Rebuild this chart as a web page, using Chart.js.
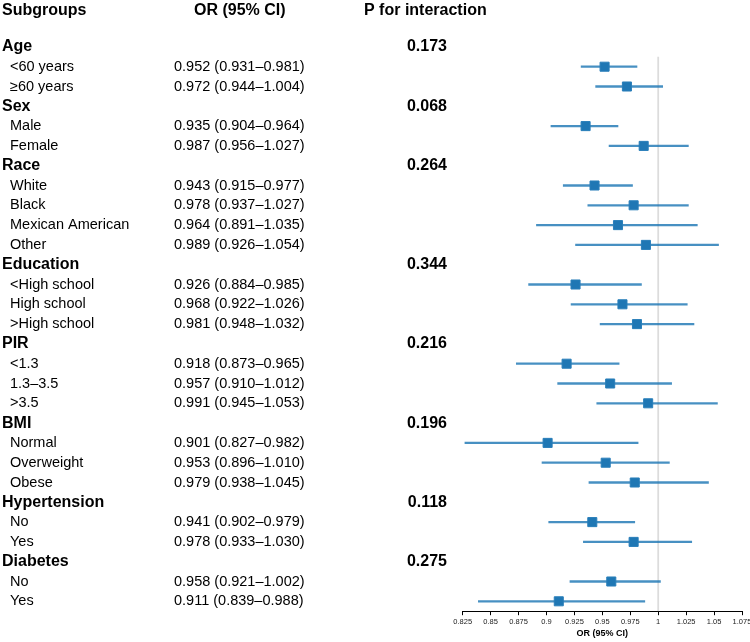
<!DOCTYPE html>
<html>
<head>
<meta charset="utf-8">
<script src="https://cdn.jsdelivr.net/npm/chart.js@4"></script>
<style>
  html, body { margin: 0; padding: 0; background: #fff; }
  #wrap { width: 750px; height: 642px; }
</style>
</head>
<body>
<div id="wrap"><canvas id="c" width="750" height="642"></canvas></div>
<script>
// ---- Data ----
const rowLabels = ['Age', '<60 years', '\u226560 years', 'Sex', 'Male', 'Female', 'Race', 'White', 'Black', 'Mexican American', 'Other', 'Education', '<High school', 'High school', '>High school', 'PIR', '<1.3', '1.3\u20133.5', '>3.5', 'BMI', 'Normal', 'Overweight', 'Obese', 'Hypertension', 'No', 'Yes', 'Diabetes', 'No', 'Yes'];
const isGroupHeader = [true, false, false, true, false, false, true, false, false, false, false, true, false, false, false, true, false, false, false, true, false, false, false, true, false, false, true, false, false];
const orValues = [null, 0.952, 0.972, null, 0.935, 0.987, null, 0.943, 0.978, 0.964, 0.989, null, 0.926, 0.968, 0.981, null, 0.918, 0.957, 0.991, null, 0.901, 0.953, 0.979, null, 0.941, 0.978, null, 0.958, 0.911];
const ciLower = [null, 0.931, 0.944, null, 0.904, 0.956, null, 0.915, 0.937, 0.891, 0.926, null, 0.884, 0.922, 0.948, null, 0.873, 0.910, 0.945, null, 0.827, 0.896, 0.938, null, 0.902, 0.933, null, 0.921, 0.839];
const ciUpper = [null, 0.981, 1.004, null, 0.964, 1.027, null, 0.977, 1.027, 1.035, 1.054, null, 0.985, 1.026, 1.032, null, 0.965, 1.012, 1.053, null, 0.982, 1.010, 1.045, null, 0.979, 1.030, null, 1.002, 0.988];
const pInteraction = ['0.173', null, null, '0.068', null, null, '0.264', null, null, null, null, '0.344', null, null, null, '0.216', null, null, null, '0.196', null, null, null, '0.118', null, null, '0.275', null, null];
const xTickValues = [0.825, 0.85, 0.875, 0.9, 0.925, 0.95, 0.975, 1, 1.025, 1.05, 1.075];
const columnHeaders = ['Subgroups', 'OR (95% CI)', 'P for interaction'];
const axisTitle = 'OR (95% CI)';
const refValue = 1;

// ---- Derived datasets ----
const ciData = [];
const pointData = [];
rowLabels.forEach((lab, i) => {
  if (orValues[i] !== null) {
    ciData.push({ y: i, x: [ciLower[i], ciUpper[i]] });
    pointData.push({ x: orValues[i], y: i });
  }
});
const refData = [{ x: refValue, y: 0.5 }, { x: refValue, y: rowLabels.length - 0.5 }];

const FONT = '"Liberation Sans", Arial, Helvetica, sans-serif';

const tablePlugin = {
  id: 'tableText',
  afterDraw(chart) {
    const ctx = chart.ctx;
    const yS = chart.scales.y;
    ctx.save();
    ctx.fillStyle = '#000';
    ctx.textBaseline = 'middle';
    ctx.font = 'bold 16px ' + FONT;
    ctx.textAlign = 'left';
    ctx.fillText(columnHeaders[0], 2, 11);
    ctx.fillText(columnHeaders[1], 194, 11);
    ctx.fillText(columnHeaders[2], 364, 11);
    rowLabels.forEach((lab, i) => {
      const y = yS.getPixelForValue(i);
      if (isGroupHeader[i]) {
        ctx.font = 'bold 16px ' + FONT;
        ctx.textAlign = 'left';
        ctx.fillText(lab, 2, y);
        if (pInteraction[i] !== null) {
          ctx.textAlign = 'right';
          ctx.fillText(pInteraction[i], 447, y);
        }
      } else {
        ctx.font = '14.5px ' + FONT;
        ctx.textAlign = 'left';
        ctx.fillText(lab, 10, y);
        const txt = orValues[i].toFixed(3) + ' (' + ciLower[i].toFixed(3) + '\u2013' + ciUpper[i].toFixed(3) + ')';
        ctx.fillText(txt, 174, y);
      }
    });
    ctx.restore();
  }
};

new Chart(document.getElementById('c'), {
  type: 'bar',
  data: {
    datasets: [
      {
        type: 'scatter',
        data: pointData,
        pointStyle: 'rect',
        pointRadius: 6.4,
        pointHoverRadius: 6.4,
        backgroundColor: '#1f77b4',
        borderColor: '#2a7fba',
        borderWidth: 1,
        order: 1
      },
      {
        type: 'bar',
        indexAxis: 'y',
        data: ciData,
        backgroundColor: 'rgba(31,119,180,0.82)',
        borderWidth: 0,
        barThickness: 1.6,
        order: 2
      },
      {
        type: 'line',
        data: refData,
        borderColor: '#dcdcdc',
        borderWidth: 1.8,
        pointRadius: 0,
        fill: false,
        order: 3
      }
    ]
  },
  options: {
    responsive: false,
    animation: false,
    devicePixelRatio: 1,
    indexAxis: 'y',
    layout: { padding: { top: 37, left: 462.7, right: 8, bottom: 0 } },
    plugins: {
      legend: { display: false },
      tooltip: { enabled: false },
      title: { display: false }
    },
    events: [],
    scales: {
      y: {
        type: 'linear',
        display: false,
        reverse: true,
        offset: false,
        grid: { offset: false },
        min: -0.5,
        max: rowLabels.length - 0.5
      },
      x: {
        type: 'linear',
        position: 'bottom',
        offset: false,
        min: xTickValues[0],
        max: xTickValues[xTickValues.length - 1],
        afterBuildTicks: (scale) => { scale.ticks = xTickValues.map(v => ({ value: v })); },
        afterFit: (scale) => { scale.paddingLeft = 0; scale.paddingRight = 0; },
        grid: { display: true, offset: false, drawOnChartArea: false, drawTicks: true, tickLength: 4, color: '#000', tickWidth: 1 },
        border: { display: true, color: '#000', width: 1 },
        ticks: {
          padding: 2,
          maxRotation: 0,
          autoSkip: false,
          color: '#222',
          font: { family: FONT, size: 7.5 },
          callback: (v) => String(v)
        },
        title: {
          display: true,
          text: axisTitle,
          color: '#000',
          font: { family: FONT, size: 9, weight: 'bold' },
          padding: { top: 0, bottom: 3 }
        }
      }
    }
  },
  plugins: [tablePlugin]
});
</script>
</body>
</html>
